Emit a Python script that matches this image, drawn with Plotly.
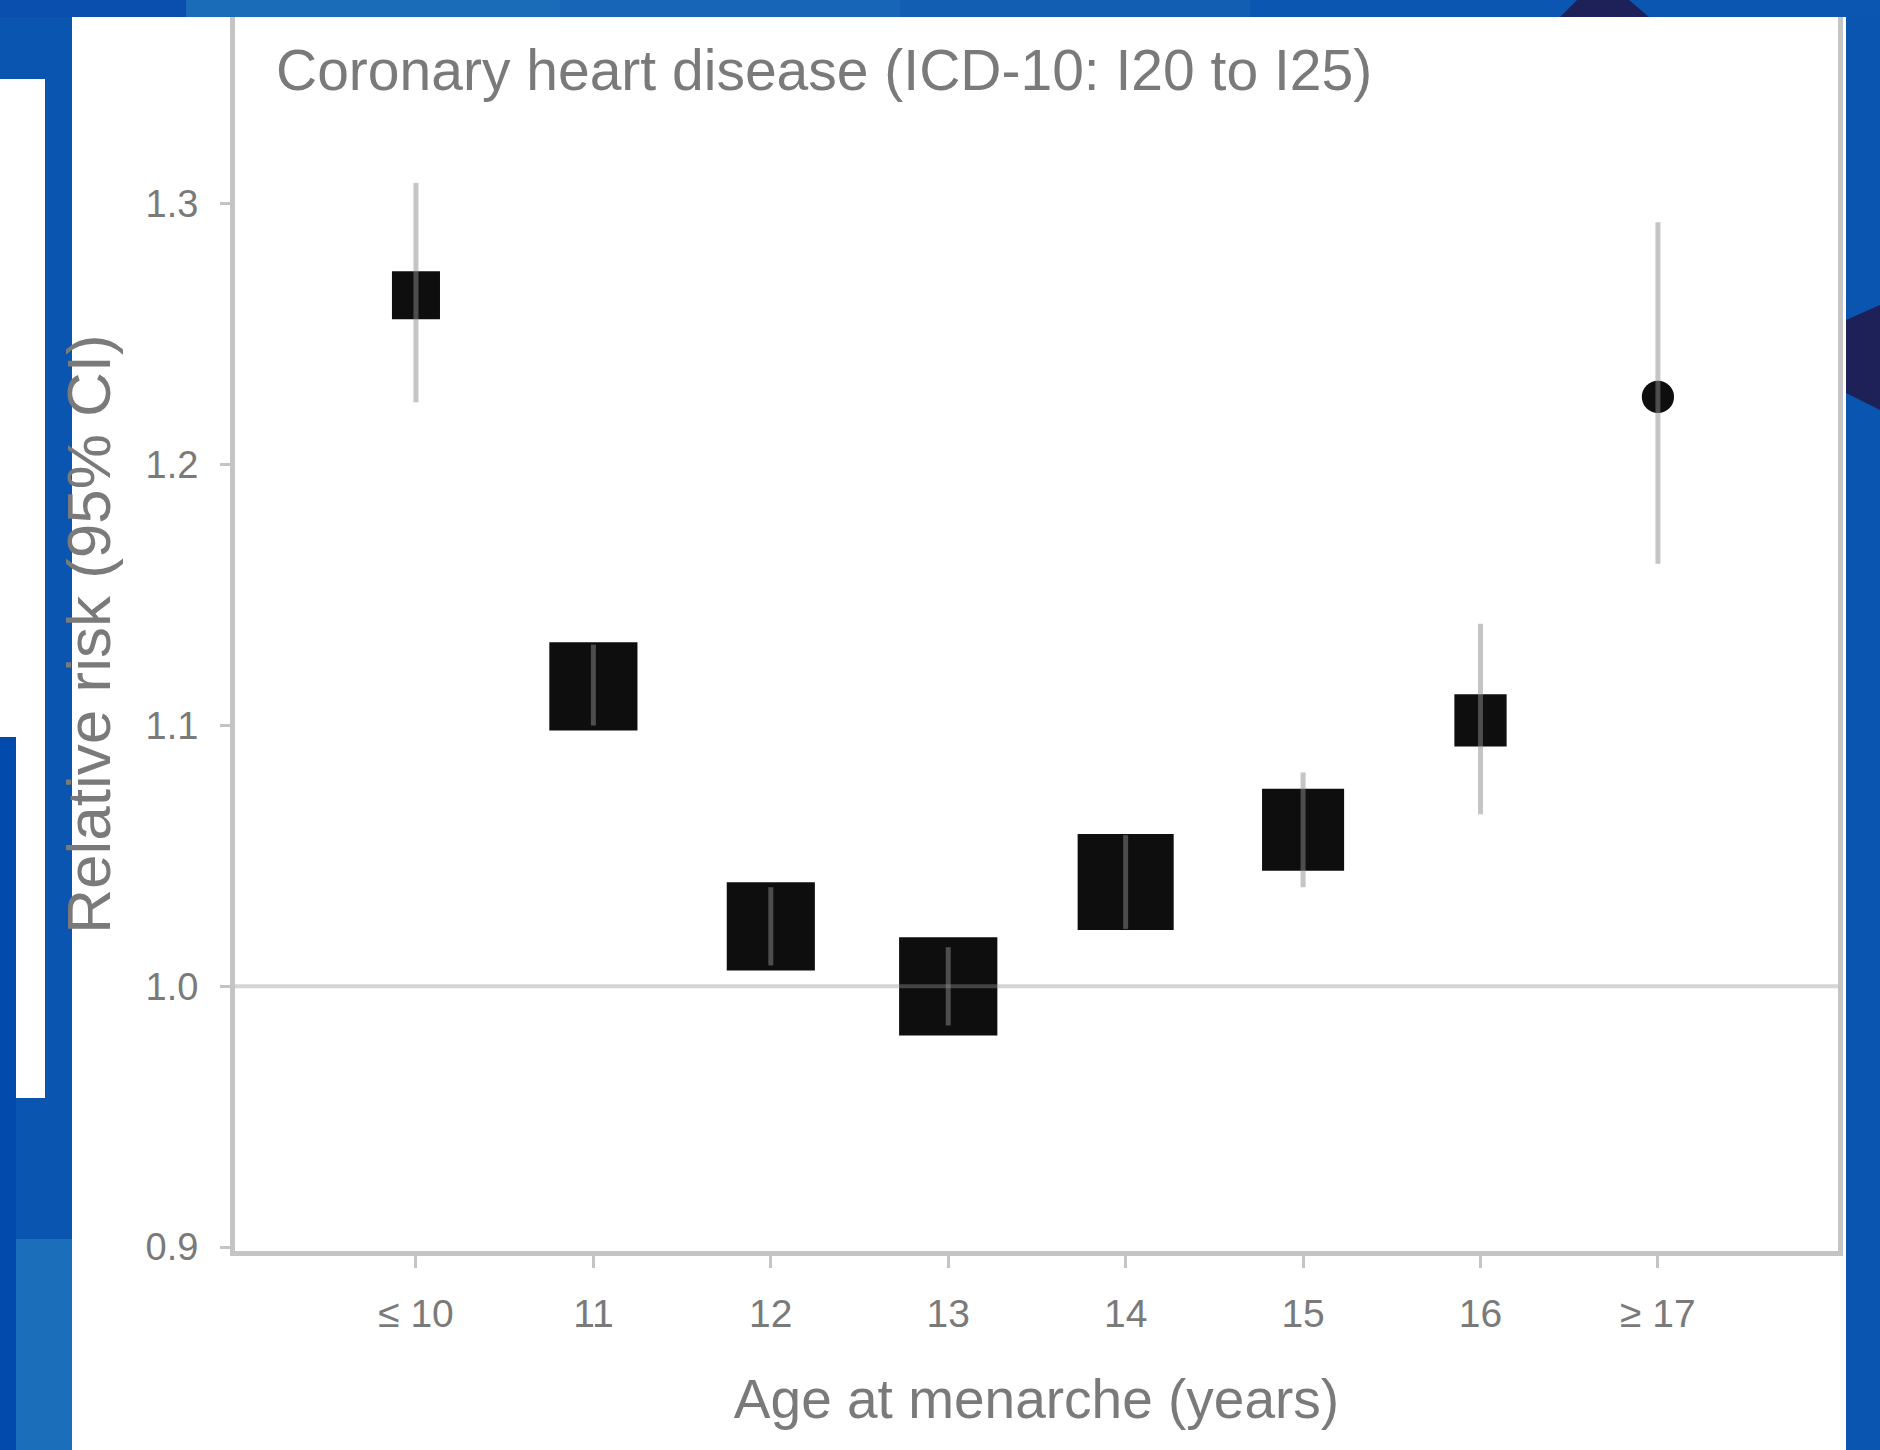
import math
import plotly.graph_objects as go

# ---------------- data ----------------
categories = ["≤ 10", "11", "12", "13", "14", "15", "16", "≥ 17"]
relative_risk = [1.265, 1.115, 1.023, 1.000, 1.040, 1.060, 1.102, 1.226]
ci_low = [1.224, 1.100, 1.008, 0.985, 1.022, 1.038, 1.066, 1.162]
ci_high = [1.308, 1.131, 1.038, 1.015, 1.058, 1.082, 1.139, 1.293]
# share of statistical information per group (%), drives box area
info_weight = [4.9, 16.5, 16.5, 20.5, 19.6, 14.3, 5.8, 2.2]
y_ticks = [0.9, 1.0, 1.1, 1.2, 1.3]
y_tick_labels = ["0.9", "1.0", "1.1", "1.2", "1.3"]
reference_value = 1.0

title_text = "Coronary heart disease (ICD-10: I20 to I25)"
x_title = "Age at menarche (years)"
y_title = "Relative risk (95% CI)"

# ---------------- geometry / style ----------------
W, H = 1880, 1450
ML, MR, MT, MB = 235, 42, 17, 199
PW, PH = W - ML - MR, H - MT - MB

FONT = "Liberation Sans, Arial, sans-serif"
TXT = "#7a7a7a"
AXIS = "#c4c4c4"
BLUE = "#0a55b0"


def px(x):
    return (x - ML) / PW


def py(y):
    return (H - MB - y) / PH


def rect(x0, y0, x1, y1, color):
    return dict(type="rect", xref="paper", yref="paper", x0=px(x0), x1=px(x1),
                y0=py(y1), y1=py(y0), fillcolor=color, line=dict(width=0),
                layer="below")


def poly(points, color):
    d = "M " + " L ".join(f"{px(a):.5f},{py(b):.5f}" for a, b in points) + " Z"
    return dict(type="path", xref="paper", yref="paper", path=d,
                fillcolor=color, line=dict(width=0), layer="below")


SIZE_SCALE = 21.7
box_sizes = [SIZE_SCALE * math.sqrt(w) for w in info_weight]
symbols = ["square"] * (len(categories) - 1) + ["circle"]

xs = list(range(len(categories)))

ci_x, ci_y = [], []
for i, lo, hi in zip(xs, ci_low, ci_high):
    ci_x += [i, i, None]
    ci_y += [lo, hi, None]

fig = go.Figure()
fig.add_trace(go.Scatter(
    x=xs, y=relative_risk, mode="markers",
    marker=dict(symbol=symbols, size=box_sizes, color="#0e0e0e", opacity=1,
                line=dict(width=0)),
    showlegend=False, hoverinfo="skip"))
fig.add_trace(go.Scatter(
    x=ci_x, y=ci_y, mode="lines",
    line=dict(color="rgba(140,140,140,0.5)", width=5),
    showlegend=False, hoverinfo="skip"))

shapes = [
    # slide decoration
    rect(72, 17, 1846, 1450, "white"),
    rect(0, 0, 186, 17, "#0a4fae"),
    rect(186, 0, 560, 17, "#1a6bb8"),
    rect(560, 0, 900, 17, "#1765b6"),
    rect(900, 0, 1250, 17, "#125eb3"),
    rect(1250, 0, 1880, 17, "#0b56b1"),
    poly([(1560, 17), (1577, 0), (1629, 0), (1649, 17)], "#1e2157"),
    poly([(1846, 320), (1880, 305), (1880, 410), (1846, 393)], "#1e2157"),
    poly([(0, 79), (45, 79), (45, 1098), (16, 1098), (16, 737), (0, 737)], "white"),
    rect(0, 737, 16, 1450, "#034aad"),
    rect(16, 1239, 72, 1450, "#1a6eba"),
    # reference line
    dict(type="line", xref="paper", yref="y", x0=0, x1=1,
         y0=reference_value, y1=reference_value,
         line=dict(color="rgba(150,150,150,0.4)", width=4), layer="above"),
]

fig.update_layout(
    width=W, height=H,
    margin=dict(l=ML, r=MR, t=MT, b=MB, pad=0),
    paper_bgcolor=BLUE, plot_bgcolor="white",
    font=dict(family=FONT, color=TXT),
    shapes=shapes,
    title=dict(text=title_text, font=dict(size=57, color=TXT, family=FONT),
               x=276 / W, xanchor="left", xref="container",
               y=1 - 70 / H, yanchor="middle", yref="container"),
    xaxis=dict(
        range=[-1.02, 8.015], tickmode="array", tickvals=xs, ticktext=categories,
        showgrid=False, zeroline=False, showline=True, linecolor=AXIS,
        linewidth=5, mirror=False, ticks="outside", ticklen=12, tickwidth=3,
        tickcolor=AXIS, tickfont=dict(size=39, color=TXT),
        ticklabelstandoff=12,
        title=dict(text=x_title, font=dict(size=55, color=TXT), standoff=47),
    ),
    yaxis=dict(
        range=[0.8985, 1.3717], tickmode="array", tickvals=y_ticks,
        ticktext=y_tick_labels,
        showgrid=False, zeroline=False, showline=True, linecolor=AXIS,
        linewidth=5, mirror=True, ticks="outside", ticklen=10, tickwidth=3,
        tickcolor=AXIS, tickfont=dict(size=38, color=TXT),
        ticklabelstandoff=14,
        title=dict(text=y_title, font=dict(size=62, color=TXT), standoff=16),
    ),
)

fig.write_html(
    "out.html",
    config={"displayModeBar": False},
    post_script="document.body.style.margin='0';"
                "document.body.style.overflow='hidden';",
)
